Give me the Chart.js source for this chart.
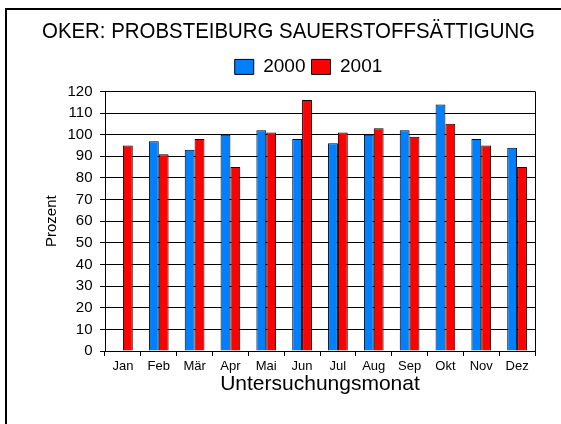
<!DOCTYPE html>
<html><head><meta charset="utf-8">
<script src="https://cdn.jsdelivr.net/npm/chart.js@4.4.1/dist/chart.umd.min.js"></script>
<style>html,body{margin:0;padding:0;background:#fff;} canvas{display:block;}</style>
</head><body>
<canvas id="c" width="561" height="424"></canvas>
<script>
const chartTitle = 'OKER: PROBSTEIBURG SAUERSTOFFSÄTTIGUNG';
const months = ['Jan','Feb','Mär','Apr','Mai','Jun','Jul','Aug','Sep','Okt','Nov','Dez'];
const seriesNames = ['2000','2001'];
const values2000 = [null,97,93,100,102,98,96,100,102,114,98,94];
const values2001 = [95,91,98,85,101,116,101,103,99,105,95,85];
const yTitle = 'Prozent';
const xTitle = 'Untersuchungsmonat';
const yMin = 0, yMax = 120, yStep = 10;

Chart.defaults.font.family = "'Liberation Sans', Arial, sans-serif";
Chart.defaults.color = '#000';

const framePlugin = {
  id: 'frame',
  beforeDraw(chart) {
    const ctx = chart.ctx;
    ctx.save();
    ctx.fillStyle = '#fff';
    ctx.fillRect(0, 0, chart.width, chart.height);
    ctx.restore();
  },
  afterLayout(chart) {
    const lg = chart.legend;
    lg.left += 20; lg.right += 20; lg.top -= 5; lg.bottom -= 5;
  },
  beforeDatasetsDraw(chart) {
    const {ctx, chartArea: a} = chart;
    ctx.save();
    ctx.strokeStyle = '#000'; ctx.lineWidth = 1;
    ctx.beginPath();
    const x = Math.round(a.right) + 0.5;
    ctx.moveTo(x, a.top); ctx.lineTo(x, a.bottom);
    ctx.stroke();
    ctx.restore();
  },
  afterDraw(chart) {
    const ctx = chart.ctx;
    ctx.save();
    ctx.strokeStyle = '#000'; ctx.lineWidth = 2;
    ctx.beginPath();
    ctx.moveTo(6, chart.height); ctx.lineTo(6, 9); ctx.lineTo(chart.width, 9);
    ctx.stroke();
    ctx.restore();
  }
};

new Chart(document.getElementById('c'), {
  type: 'bar',
  data: {
    labels: months,
    datasets: [
      { label: seriesNames[0], data: values2000, backgroundColor: '#0080ff', borderColor: '#000', borderWidth: 1,
        categoryPercentage: 0.55, barPercentage: 1 },
      { label: seriesNames[1], data: values2001, backgroundColor: '#ff0000', borderColor: '#000', borderWidth: 1,
        categoryPercentage: 0.55, barPercentage: 1 }
    ]
  },
  options: {
    responsive: false,
    animation: false,
    layout: { padding: { left: 42, right: 26, top: 0, bottom: 27 } },
    plugins: {
      title: { display: true, text: chartTitle, color: '#000', font: { size: 22, weight: 'normal' }, padding: { top: 19, bottom: 11 } },
      legend: { display: true, labels: { boxWidth: 19, boxHeight: 15, padding: 6, color: '#000', font: { size: 19 } } },
      tooltip: { enabled: false }
    },
    scales: {
      x: {
        grid: { display: true, drawOnChartArea: false, drawTicks: true, tickLength: 5, offset: true, color: '#000' },
        border: { display: true, color: '#000', width: 1 },
        ticks: { font: { size: 13 }, padding: 3, maxRotation: 0, autoSkip: false, color: '#000' },
        title: { display: true, text: xTitle, color: '#000', font: { size: 21 }, padding: 0 },
        afterFit(s) { s.height = 46; }
      },
      y: {
        min: yMin, max: yMax,
        ticks: { stepSize: yStep, font: { size: 15 }, padding: 7.5, color: '#000' },
        grid: { color: '#000', tickLength: 5, drawTicks: true },
        border: { display: true, color: '#000', width: 1 },
        title: { display: true, text: yTitle, color: '#000', font: { size: 15 }, padding: { top: 1, bottom: 0 } },
        afterFit(s) { s.width = 63; }
      }
    }
  },
  plugins: [framePlugin]
});
</script>
</body></html>
